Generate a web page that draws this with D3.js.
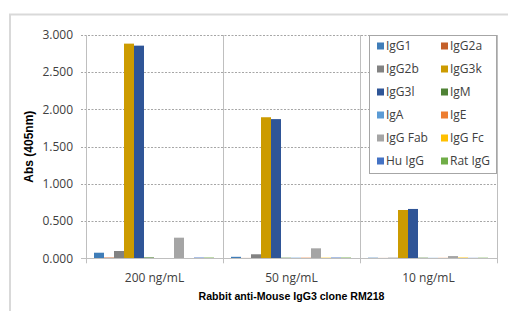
<!DOCTYPE html>
<html>
<head>
<meta charset="utf-8">
<script src="https://cdn.jsdelivr.net/npm/d3@7"></script>
<style>
  body { margin: 0; background: #fff; }
  svg { display: block; }
</style>
</head>
<body>
<div id="chart"></div>
<script>
const categories = ["200 ng/mL", "50 ng/mL", "10 ng/mL"];
const series = ["IgG1", "IgG2a", "IgG2b", "IgG3k", "IgG3l", "IgM",
                "IgA", "IgE", "IgG Fab", "IgG Fc", "Hu IgG", "Rat IgG"];
const colors = ["#3f7db8", "#c4602a", "#828282", "#cc9b00", "#2f5597", "#4f8235",
                "#5b9bd5", "#ed7d31", "#a5a5a5", "#ffc000", "#4472c4", "#70ad47"];
// values[seriesIndex][categoryIndex]
const values = [
  [0.075, 0.020, 0.008],
  [0.010, 0.005, 0.005],
  [0.098, 0.054, 0.008],
  [2.884, 1.895, 0.649],
  [2.857, 1.870, 0.663],
  [0.012, 0.008, 0.008],
  [0.004, 0.008, 0.006],
  [0.004, 0.008, 0.006],
  [0.277, 0.134, 0.030],
  [0.004, 0.008, 0.010],
  [0.010, 0.010, 0.006],
  [0.010, 0.010, 0.008]
];
const yTicks = [0, 0.5, 1, 1.5, 2, 2.5, 3];

const width = 508, height = 311;
const svg = d3.select("#chart").append("svg")
    .attr("width", width)
    .attr("height", height);

// outer frame (runs off right/bottom edge)
svg.append("rect")
    .attr("x", 10).attr("y", 14.5)
    .attr("width", 520).attr("height", 320)
    .attr("fill", "#fff")
    .attr("stroke", "#d9d9d9")
    .attr("stroke-width", 2);

const m = { left: 86, right: 497, top: 35, bottom: 258.3 };

const x = d3.scaleBand().domain(categories).range([m.left, m.right]);
const xs = d3.scaleBand().domain(series).range([8, x.bandwidth() - 9]);
const y = d3.scaleLinear().domain([0, 3]).range([m.bottom, m.top]);

// dashed gridlines
svg.append("g").selectAll("line")
  .data(yTicks.filter(d => d > 0))
  .join("line")
    .attr("x1", m.left - 5).attr("x2", m.right)
    .attr("y1", d => Math.round(y(d)) + 0.5).attr("y2", d => Math.round(y(d)) + 0.5)
    .attr("stroke", "#a6a6a6")
    .attr("stroke-dasharray", "2,1.5")
    .attr("stroke-width", 1);

// y tick labels
svg.append("g").selectAll("text")
  .data(yTicks)
  .join("text")
    .attr("x", 73).attr("y", d => y(d))
    .attr("dy", "0.35em")
    .attr("text-anchor", "end")
    .attr("font-family", "'Open Sans', sans-serif")
    .attr("font-size", 12)
    .attr("fill", "#404040")
    .text(d => d3.format(".3f")(d));

// category separators
const seps = [m.left].concat(categories.map(c => x(c) + x.bandwidth()));
svg.append("g").selectAll("line")
  .data(seps)
  .join("line")
    .attr("x1", d => Math.round(d) + 0.5).attr("x2", d => Math.round(d) + 0.5)
    .attr("y1", m.top).attr("y2", m.bottom + 5)
    .attr("stroke", "#bfbfbf")
    .attr("stroke-width", 1);

// bars
const bars = [];
series.forEach((s, i) => categories.forEach((c, j) => bars.push({ s, i, c, v: values[i][j] })));
svg.append("g").selectAll("rect")
  .data(bars)
  .join("rect")
    .attr("x", d => x(d.c) + xs(d.s))
    .attr("y", d => y(d.v))
    .attr("width", xs.bandwidth())
    .attr("height", d => m.bottom - y(d.v))
    .attr("fill", d => colors[d.i]);

// x axis line
svg.append("line")
    .attr("x1", m.left - 5).attr("x2", m.right)
    .attr("y1", Math.round(m.bottom) + 0.5).attr("y2", Math.round(m.bottom) + 0.5)
    .attr("stroke", "#bfbfbf");

// x tick labels
svg.append("g").selectAll("text")
  .data(categories)
  .join("text")
    .attr("x", d => x(d) + x.bandwidth() / 2)
    .attr("y", 282)
    .attr("text-anchor", "middle")
    .attr("font-family", "'Open Sans', sans-serif")
    .attr("font-size", 12)
    .attr("fill", "#404040")
    .text(d => d);

// axis titles
svg.append("text")
    .attr("x", (m.left + m.right) / 2).attr("y", 300)
    .attr("text-anchor", "middle")
    .attr("font-family", "'Liberation Sans', Arial, sans-serif")
    .attr("font-weight", "bold")
    .attr("font-size", 10.6)
    .attr("fill", "#000")
    .text("Rabbit anti-Mouse IgG3 clone RM218");

svg.append("text")
    .attr("transform", `translate(33,${(m.top + m.bottom) / 2}) rotate(-90)`)
    .attr("text-anchor", "middle")
    .attr("font-family", "'Liberation Sans', Arial, sans-serif")
    .attr("font-weight", "bold")
    .attr("font-size", 12)
    .attr("fill", "#000")
    .text("Abs (405nm)");

// legend
const lg = svg.append("g");
lg.append("rect")
    .attr("x", 369.5).attr("y", 35.5)
    .attr("width", 127).attr("height", 138)
    .attr("fill", "#fff")
    .attr("stroke", "#a6a6a6");
const items = lg.selectAll("g")
  .data(series)
  .join("g")
    .attr("transform", (d, i) => `translate(${i % 2 ? 441 : 377},${46 + Math.floor(i / 2) * 23})`);
items.append("rect")
    .attr("x", 0).attr("y", -3.5)
    .attr("width", 7).attr("height", 7)
    .attr("fill", (d, i) => colors[i]);
items.append("text")
    .attr("x", 9).attr("dy", "0.35em")
    .attr("font-family", "'Open Sans', sans-serif")
    .attr("font-size", 12)
    .attr("fill", "#404040")
    .text(d => d);
</script>
</body>
</html>
